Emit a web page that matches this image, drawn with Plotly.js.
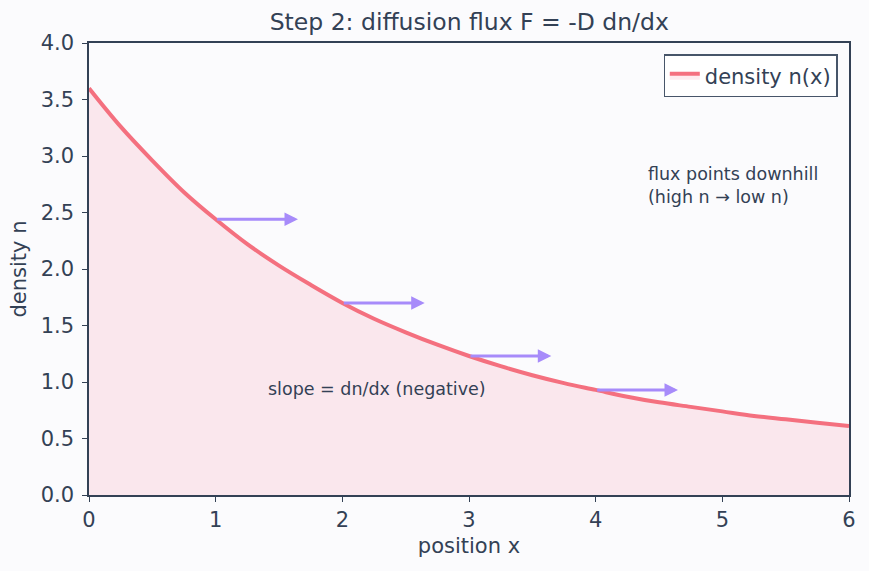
<!DOCTYPE html>
<html><head><meta charset="utf-8">
<script src="https://cdn.plot.ly/plotly-3.0.1.min.js"></script>
<style>html,body{margin:0;padding:0;background:#fbfbfd;}</style>
</head><body><div id="chart" style="width:869px;height:571px;"></div>
<script>
const xs = [0,0.25,0.5,0.75,1,1.25,1.5,1.75,2,2.25,2.5,2.75,3,3.25,3.5,3.75,4,4.25,4.5,4.75,5,5.25,5.5,5.75,6];
const density = [3.60,3.26,2.96,2.68,2.44,2.22,2.03,1.86,1.70,1.56,1.44,1.33,1.23,1.14,1.06,0.99,0.93,0.87,0.82,0.78,0.74,0.70,0.67,0.64,0.61];
const arrowX0 = [1,2,3,4];
const arrowY = [2.44,1.70,1.23,0.93];
const arrowX1 = [1.65,2.65,3.65,4.65];
const fg = '#334155';
const font = 'DejaVu Sans';

const annotations = arrowX0.map((x0,i)=>({
  x: arrowX1[i], y: arrowY[i], ax: x0, ay: arrowY[i],
  xref:'x', yref:'y', axref:'x', ayref:'y',
  showarrow:true, arrowhead:2, arrowsize:0.9, arrowwidth:3, arrowcolor:'#a78bfa', text:''
}));
annotations.push({x:1.4, y:0.94, xref:'x', yref:'y', xanchor:'left', yanchor:'middle', showarrow:false,
  text:'slope = dn/dx (negative)', font:{family:font,size:17.5,color:fg}});
annotations.push({x:4.4, y:2.74, xref:'x', yref:'y', xanchor:'left', yanchor:'middle', align:'left', showarrow:false,
  text:'flux points downhill<br>(high n → low n)', font:{family:font,size:17.5,color:fg}});

const data = [{
  x: xs, y: density, type:'scatter', mode:'lines', name:'density n(x)',
  line:{color:'#f4707f', width:4, shape:'spline'},
  fill:'tozeroy', fillcolor:'rgba(244,63,94,0.1)'
}];
const layout = {
  width:869, height:571,
  paper_bgcolor:'#fbfbfd', plot_bgcolor:'#fbfbfd',
  margin:{l:89, r:20, t:43, b:76},
  font:{family:font, size:21, color:fg},
  title:{text:'Step 2: diffusion flux F = -D dn/dx', x:0.54, xanchor:'center', y:0.976, yanchor:'top', font:{family:font,size:23.5,color:fg}},
  xaxis:{range:[0,6], dtick:1, showgrid:false, zeroline:false, showline:true, mirror:true, linecolor:fg, linewidth:1.5,
    ticks:'outside', ticklen:5, tickcolor:fg, tickfont:{family:font,size:21},
    title:{text:'position x', font:{family:font,size:21}, standoff:7}},
  yaxis:{range:[0,4], dtick:0.5, tickformat:'.1f', showgrid:false, zeroline:false, showline:true, mirror:true, linecolor:fg, linewidth:1.5,
    ticks:'outside', ticklen:5, tickcolor:fg, tickfont:{family:font,size:21}, ticklabelstandoff:4,
    title:{text:'density n', font:{family:font,size:21}, standoff:8}},
  showlegend:true,
  legend:{x:0.985, y:0.975, xanchor:'right', yanchor:'top', bgcolor:'#ffffff', bordercolor:'#475569', borderwidth:1.2, font:{family:font,size:21}},
  annotations: annotations
};
Plotly.newPlot('chart', data, layout, {displayModeBar:false});
</script></body></html>
